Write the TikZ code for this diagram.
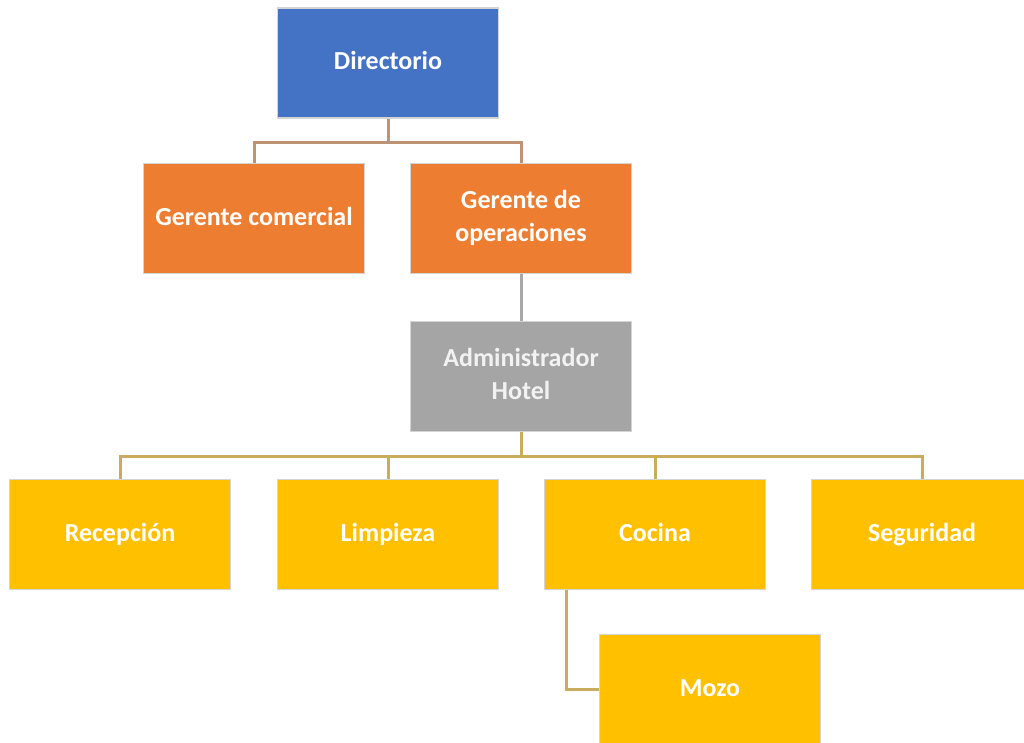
\documentclass[tikz,border=0pt]{standalone}
\usepackage{fontspec}
\setmainfont{Carlito}
\usetikzlibrary{calc}
\definecolor{cblue}{HTML}{4472C4}
\definecolor{corange}{HTML}{ED7D31}
\definecolor{cgray}{HTML}{A5A5A5}
\definecolor{cgold}{HTML}{FFC000}
\definecolor{ltop}{HTML}{BF9274}
\definecolor{lmid}{HTML}{A8A8A8}
\definecolor{lbot}{HTML}{C9AC5C}
\definecolor{bord}{HTML}{D4D4D4}
\tikzset{
  box/.style={draw=bord, line width=1.5pt, minimum width=221pt, minimum height=110pt,
    inner sep=0pt, text=white, align=center, font=\bfseries\fontsize{26}{33}\selectfont},
  conn/.style={line width=3pt}
}
\begin{document}
\begin{tikzpicture}[x=1pt,y=-1pt]
\useasboundingbox (0,0) rectangle (1024,742);
\clip (0,0) rectangle (1024,742);
\node[box, fill=cblue] (dir) at (388,63) {\strut Directorio};
\node[box, fill=corange] (gc) at (254,218.5) {\strut Gerente comercial};
\node[box, fill=corange] (go) at (521,218.5) {\strut Gerente de\\\strut operaciones};
\node[box, fill=cgray, text=white!95!black] (adm) at (521,376.5) {\strut Administrador\\\strut Hotel};
\node[box, fill=cgold] (rec) at (120,534.5) {\strut Recepción};
\node[box, fill=cgold] (lim) at (388,534.5) {\strut Limpieza};
\node[box, fill=cgold] (coc) at (655,534.5) {\strut Cocina};
\node[box, fill=cgold] (seg) at (922,534.5) {\strut Seguridad};
\node[box, fill=cgold] (moz) at (710,689.5) {\strut Mozo};
\coordinate (j1) at ($(dir.south)+(0,24)$);
\draw[conn, ltop] (dir.south) -- (j1) -| (gc.north);
\draw[conn, ltop] (j1) -| (go.north);
\draw[conn, lmid] (go.south) -- (adm.north);
\coordinate (j2) at ($(adm.south)+(0,24)$);
\draw[conn, lbot] (adm.south) -- (j2) -| (rec.north);
\draw[conn, lbot] (j2) -| (lim.north);
\draw[conn, lbot] (j2) -| (coc.north);
\draw[conn, lbot] (j2) -| (seg.north);
\coordinate (cs) at ($(coc.south west)+(23,0)$);
\draw[conn, lbot] (cs) |- (moz.west);
\end{tikzpicture}
\end{document}
